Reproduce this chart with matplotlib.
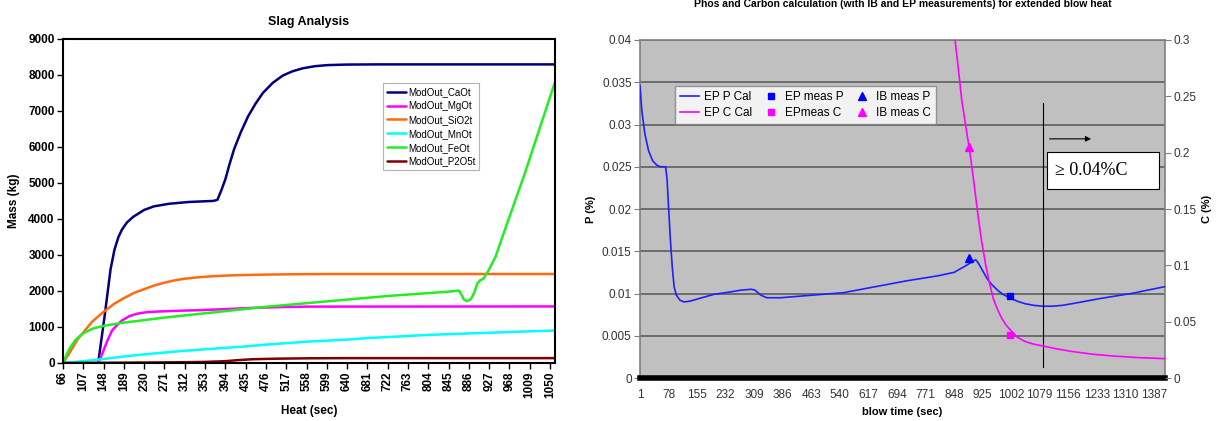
import matplotlib
matplotlib.use("Agg")
import matplotlib.pyplot as plt
import numpy as np

plt.rcParams['font.family'] = ['Liberation Sans', 'DejaVu Sans']

# ---------------- Left chart data: Slag Analysis ----------------
heat_ticks = [66 + 41 * i for i in range(25)]

cao_x = [137, 150, 162, 170, 178, 185, 195, 208, 230, 250, 280, 320, 370, 378, 386, 394, 402, 412, 425,
         440, 455, 470, 490, 510, 530, 550, 575, 600, 640, 700, 1060]
cao_y = [0, 1300, 2600, 3150, 3500, 3700, 3900, 4060, 4250, 4350, 4420, 4470, 4500, 4530, 4800, 5100, 5500,
         5950, 6400, 6850, 7200, 7500, 7780, 7980, 8100, 8180, 8240, 8270, 8285, 8290, 8290]

mgo_x = [137, 145, 155, 165, 175, 185, 200, 216, 235, 260, 300, 350, 400, 450, 500, 560, 1060]
mgo_y = [0, 250, 600, 900, 1050, 1180, 1300, 1370, 1410, 1430, 1450, 1470, 1500, 1530, 1550, 1565, 1570]

sio2_x = [66, 80, 95, 107, 125, 148, 170, 189, 210, 230, 250, 271, 290, 312, 340, 370, 400, 440, 480, 540, 600, 1060]
sio2_y = [0, 300, 650, 850, 1150, 1420, 1650, 1800, 1950, 2050, 2150, 2230, 2290, 2340, 2380, 2410, 2430,
          2445, 2455, 2465, 2470, 2470]

mno_x = [66, 90, 120, 148, 189, 230, 271, 312, 353, 394, 435, 476, 517, 558, 599, 640, 681, 722, 763, 804,
         845, 886, 927, 968, 1009, 1060]
mno_y = [0, 30, 70, 110, 180, 240, 290, 340, 380, 420, 460, 510, 550, 590, 620, 650, 690, 720, 750, 780,
         800, 820, 840, 860, 880, 900]

feo_x = [66, 72, 80, 90, 100, 110, 125, 148, 170, 189, 230, 271, 312, 353, 394, 435, 476, 517, 558, 599, 640,
         681, 722, 763, 804, 845, 866, 871, 876, 882, 890, 897, 903, 909, 915, 925, 940, 950, 1000, 1060]
feo_y = [0, 200, 420, 620, 750, 850, 950, 1030, 1080, 1120, 1190, 1260, 1320, 1380, 1440, 1500, 1560, 1610,
         1660, 1710, 1760, 1810, 1860, 1900, 1940, 1980, 2010, 1900, 1760, 1720, 1770, 1950, 2200, 2300, 2330,
         2550, 2950, 3350, 5300, 7800]

p2o5_x = [66, 200, 300, 353, 394, 420, 450, 500, 560, 640, 1060]
p2o5_y = [0, 10, 20, 30, 50, 80, 105, 120, 130, 135, 135]

slag_series = [
    ("ModOut_CaOt", cao_x, cao_y, "#000080"),
    ("ModOut_MgOt", mgo_x, mgo_y, "#FF00FF"),
    ("ModOut_SiO2t", sio2_x, sio2_y, "#FF6A10"),
    ("ModOut_MnOt", mno_x, mno_y, "#00FFFF"),
    ("ModOut_FeOt", feo_x, feo_y, "#22EE22"),
    ("ModOut_P2O5t", p2o5_x, p2o5_y, "#800000"),
]

# ---------------- Right chart data: Phos and Carbon ----------------
blow_ticks = [1 + 77 * i for i in range(19)]

pcal_x = [1, 6, 14, 24, 35, 46, 56, 66, 70, 74, 78, 83, 88, 93, 99, 109, 120, 136, 168, 200, 232, 274, 301,
          311, 327, 343, 380, 465, 550, 635, 720, 805, 848, 880, 906, 912, 925, 938, 951, 965, 980, 997, 1018,
          1039, 1063, 1087, 1114, 1140, 1167, 1204, 1241, 1283, 1326, 1370, 1416]
pcal_y = [0.0346, 0.0316, 0.0289, 0.0269, 0.0257, 0.0252, 0.0250, 0.0250, 0.0250, 0.0235, 0.0202, 0.0163,
          0.0131, 0.0108, 0.0098, 0.0092, 0.0090, 0.0091, 0.0095, 0.0099, 0.0101, 0.0104, 0.0105, 0.0104,
          0.0098, 0.0095, 0.0095, 0.0098, 0.0101, 0.0108, 0.0115, 0.0121, 0.0125, 0.0133, 0.0140, 0.0137,
          0.0127, 0.0117, 0.0110, 0.0104, 0.0099, 0.0095, 0.0091, 0.0088, 0.0086, 0.0085, 0.0085, 0.0086,
          0.0088, 0.0091, 0.0094, 0.0097, 0.0100, 0.0104, 0.0108]

ccal_x = [849, 859, 869, 880, 890, 901, 912, 922, 933, 944, 954, 965, 975, 986, 997, 1018, 1039, 1063, 1087,
          1120, 1167, 1220, 1273, 1340, 1416]
ccal_y = [0.305, 0.276, 0.246, 0.2226, 0.2019, 0.175, 0.1457, 0.122, 0.101, 0.0836, 0.0703, 0.061, 0.054,
          0.048, 0.0437, 0.0363, 0.0325, 0.0300, 0.0285, 0.0262, 0.0235, 0.0212, 0.0196, 0.0182, 0.0172]

ep_meas_p_x, ep_meas_p_y = [999], [0.00966]
ep_meas_c_x, ep_meas_c_y = [999], [0.0384]
ib_meas_p_x, ib_meas_p_y = [887], [0.0142]
ib_meas_c_x, ib_meas_c_y = [887], [0.2048]

marker_line_x = 1087
marker_line_y = (0.0013, 0.0325)
arrow_x = (1098, 1225)
arrow_y = 0.0283
note_text = "\u2265 0.04%C"
note_box_x = (1098, 1401)
note_box_y = (0.0224, 0.0268)

# ---------------- Figure ----------------
fig = plt.figure(figsize=(12.17, 4.21), dpi=100)

# Left axes
ax1 = fig.add_axes([0.0518, 0.1378, 0.4042, 0.770])
for name, xs, ys, col in slag_series:
    ax1.plot(xs, ys, color=col, lw=1.8, label=name, solid_capstyle='round')
ax1.set_xlim(66, 1060)
ax1.set_ylim(0, 9000)
ax1.set_xticks(heat_ticks)
ax1.set_xticklabels([str(t) for t in heat_ticks], rotation=90, fontsize=8.5, fontweight='bold')
ax1.set_yticks(range(0, 9001, 1000))
ax1.set_yticklabels([str(v) for v in range(0, 9001, 1000)], fontsize=8.5, fontweight='bold')
ax1.tick_params(direction='out', length=4, width=1, pad=2)
for s in ax1.spines.values():
    s.set_linewidth(1.5)
ax1.set_title("Slag Analysis", fontsize=9, fontweight='bold', pad=10)
ax1.set_xlabel("Heat (sec)", fontsize=8.5, fontweight='bold', labelpad=5)
ax1.set_ylabel("Mass (kg)", fontsize=8.5, fontweight='bold', labelpad=6)
leg1 = ax1.legend(loc='upper left', bbox_to_anchor=(0.65, 0.863), fontsize=7, frameon=True, fancybox=False,
                  edgecolor='#A0A0A0', handlelength=2.0, labelspacing=0.4, borderpad=0.4,
                  handletextpad=0.2, borderaxespad=0)
leg1.get_frame().set_linewidth(0.8)

# Right axes
ax2 = fig.add_axes([0.5259, 0.1021, 0.4314, 0.8029])
ax2.set_facecolor('#C0C0C0')
ax2.set_xlim(1, 1417)
ax2.set_ylim(0, 0.04)
pticks = [i * 0.005 for i in range(9)]
ax2.set_yticks(pticks)
ax2.set_yticklabels(["0", "0.005", "0.01", "0.015", "0.02", "0.025", "0.03", "0.035", "0.04"],
                    fontsize=8.5, color='#333333')
for yv in pticks[1:]:
    ax2.axhline(yv, color='#666666', lw=1.3, zorder=1)
ax2.set_xticks(blow_ticks)
ax2.set_xticklabels([str(t) for t in blow_ticks], fontsize=8.5, color='#333333')
ax2.tick_params(axis='x', length=0, pad=8)
ax2.tick_params(axis='y', direction='out', length=4, color='#808080', pad=2)
for side in ['left', 'right', 'top']:
    ax2.spines[side].set_color('#808080')
    ax2.spines[side].set_linewidth(1.2)
ax2.spines['bottom'].set_color('black')
ax2.spines['bottom'].set_linewidth(4)

ax3 = ax2.twinx()
ax3.set_ylim(0, 0.3)
cticks = [i * 0.05 for i in range(7)]
ax3.set_yticks(cticks)
ax3.set_yticklabels(["0", "0.05", "0.1", "0.15", "0.2", "0.25", "0.3"], fontsize=8.5, color='#333333')
ax3.tick_params(axis='y', direction='out', length=4, color='#808080', pad=2)
for s in ax3.spines.values():
    s.set_visible(False)

lp, = ax2.plot(pcal_x, pcal_y, color='#2020FF', lw=1.2, zorder=3, label='EP P Cal')
lc, = ax3.plot(ccal_x, ccal_y, color='#FF00FF', lw=1.2, zorder=3, label='EP C Cal')
m1, = ax2.plot(ep_meas_p_x, ep_meas_p_y, 's', color='#0000FF', ms=5, ls='none', label='EP meas P', zorder=4)
m2, = ax3.plot(ep_meas_c_x, ep_meas_c_y, 's', color='#FF00FF', ms=5, ls='none', label='EPmeas C', zorder=4)
m3, = ax2.plot(ib_meas_p_x, ib_meas_p_y, '^', color='#0000FF', ms=5.5, ls='none', label='IB meas P', zorder=4)
m4, = ax3.plot(ib_meas_c_x, ib_meas_c_y, '^', color='#FF00FF', ms=5.5, ls='none', label='IB meas C', zorder=4)

ax3.plot([marker_line_x, marker_line_x], [v * 7.5 for v in marker_line_y], color='black', lw=0.8)
ax3.annotate("", xy=(arrow_x[1], arrow_y * 7.5), xytext=(arrow_x[0], arrow_y * 7.5),
             arrowprops=dict(arrowstyle='-|>', color='black', lw=0.8, mutation_scale=8))
ax3.add_patch(plt.Rectangle((note_box_x[0], note_box_y[0] * 7.5), note_box_x[1] - note_box_x[0],
                            (note_box_y[1] - note_box_y[0]) * 7.5, facecolor='white', edgecolor='black',
                            lw=0.8, zorder=5))
ax3.text(note_box_x[0] + 22, (note_box_y[0] + note_box_y[1]) / 2 * 7.5, note_text,
         fontsize=13, family=['Liberation Serif', 'DejaVu Serif'], va='center', ha='left', zorder=6)

leg2 = ax3.legend([lp, lc, m1, m2, m3, m4],
                  ['EP P Cal', 'EP C Cal', 'EP meas P', 'EPmeas C', 'IB meas P', 'IB meas C'],
                  ncol=3, loc='upper left', bbox_to_anchor=(0.067, 0.864), fontsize=8.5, frameon=True,
                  fancybox=False, edgecolor='#808080', handlelength=1.6, columnspacing=0.8,
                  handletextpad=0.4, labelspacing=0.35, borderpad=0.4, borderaxespad=0)
leg2.get_frame().set_linewidth(1.0)
leg2.set_zorder(10)

ax2.set_title("Phos and Carbon calculation (with IB and EP measurements) for extended blow heat",
              fontsize=7.5, fontweight='bold', pad=24)
ax2.set_xlabel("blow time (sec)", fontsize=8, fontweight='bold', labelpad=4)
ax2.set_ylabel("P (%)", fontsize=8, fontweight='bold', labelpad=4)
ax3.set_ylabel("C (%)", fontsize=8, fontweight='bold', labelpad=4)

fig.savefig("out.png", dpi=100)
